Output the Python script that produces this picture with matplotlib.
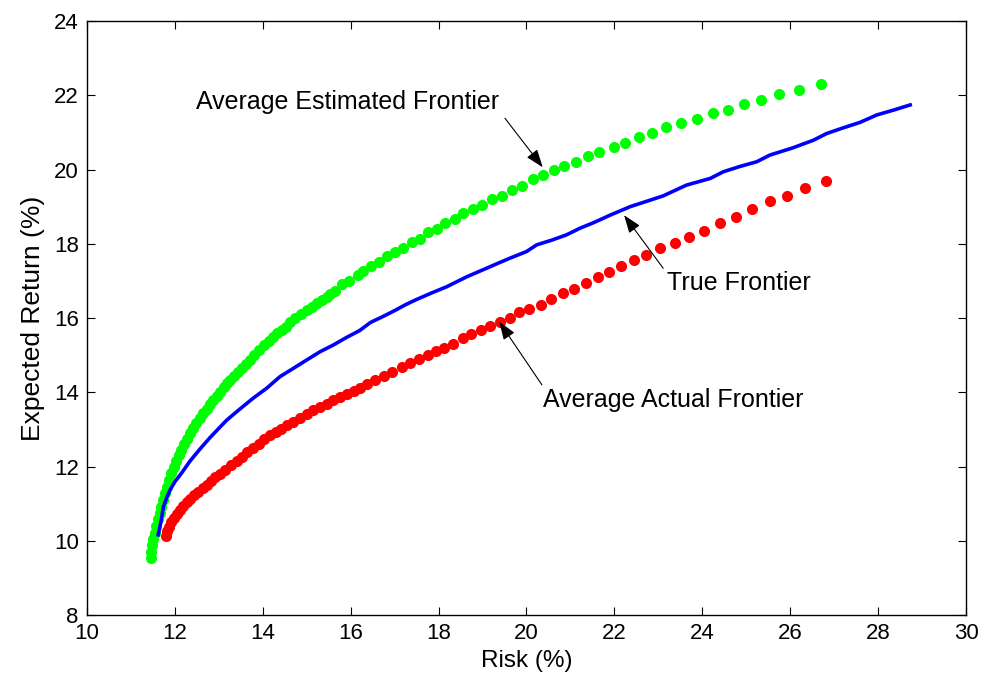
import numpy as np
import matplotlib.pyplot as plt

plt.rcParams['font.family'] = ['Liberation Sans', 'DejaVu Sans']

# Average estimated frontier (green dots): risk, return in %
est_risk = [11.45, 11.46, 11.48, 11.51, 11.54, 11.57, 11.61, 11.65, 11.69, 11.74,
            11.78, 11.82, 11.87, 11.92, 11.97, 12.03, 12.09, 12.15, 12.21, 12.27,
            12.34, 12.42, 12.49, 12.57, 12.64, 12.72, 12.80, 12.87, 12.95, 13.03,
            13.11, 13.18, 13.26, 13.34, 13.43, 13.52, 13.61, 13.71, 13.81, 13.92,
            14.02, 14.13, 14.23, 14.33, 14.43, 14.53, 14.63, 14.73, 14.86, 15.00,
            15.11, 15.23, 15.34, 15.45, 15.54, 15.64, 15.80, 15.97, 16.16, 16.29,
            16.46, 16.65, 16.83, 17.01, 17.18, 17.39, 17.58, 17.75, 17.97, 18.15,
            18.37, 18.55, 18.78, 18.99, 19.22, 19.44, 19.66, 19.89, 20.15, 20.37,
            20.63, 20.86, 21.13, 21.40, 21.66, 21.98, 22.24, 22.55, 22.86, 23.17,
            23.52, 23.88, 24.24, 24.59, 24.95, 25.34, 25.75, 26.19, 26.69]
est_ret = [9.53, 9.70, 9.88, 10.05, 10.22, 10.40, 10.58, 10.75, 10.92, 11.10,
           11.28, 11.46, 11.64, 11.82, 12.00, 12.15, 12.30, 12.45, 12.60, 12.75,
           12.90, 13.04, 13.18, 13.31, 13.43, 13.55, 13.68, 13.80, 13.91, 14.02,
           14.13, 14.24, 14.34, 14.44, 14.54, 14.65, 14.76, 14.87, 15.00, 15.13,
           15.26, 15.39, 15.49, 15.59, 15.67, 15.76, 15.88, 15.99, 16.10, 16.22,
           16.31, 16.40, 16.49, 16.57, 16.65, 16.74, 16.91, 17.00, 17.16, 17.27,
           17.40, 17.52, 17.67, 17.78, 17.88, 18.05, 18.14, 18.31, 18.41, 18.56,
           18.67, 18.83, 18.94, 19.04, 19.20, 19.30, 19.45, 19.56, 19.74, 19.84,
           19.99, 20.09, 20.20, 20.36, 20.46, 20.61, 20.72, 20.88, 20.98, 21.14,
           21.24, 21.36, 21.51, 21.61, 21.77, 21.88, 22.03, 22.15, 22.30]

# True frontier (blue line)
true_risk = [11.62, 11.68, 11.74, 11.82, 11.89, 12.00, 12.15, 12.34, 12.57, 12.80,
             13.00, 13.18, 13.45, 13.78, 14.09, 14.39, 14.69, 15.00, 15.30, 15.60,
             15.91, 16.20, 16.45, 16.75, 17.00, 17.25, 17.50, 17.85, 18.18, 18.64,
             19.09, 19.40, 19.62, 20.00, 20.23, 20.58, 20.91, 21.22, 21.55, 21.90,
             22.36, 22.75, 23.11, 23.64, 24.18, 24.48, 24.85, 25.24, 25.54, 26.05,
             26.53, 26.83, 27.20, 27.59, 27.97, 28.35, 28.73]
true_ret = [10.16, 10.50, 10.92, 11.18, 11.37, 11.59, 11.82, 12.14, 12.47, 12.78,
            13.03, 13.25, 13.52, 13.84, 14.11, 14.42, 14.64, 14.87, 15.09, 15.27,
            15.48, 15.66, 15.88, 16.05, 16.20, 16.36, 16.50, 16.68, 16.84, 17.11,
            17.34, 17.50, 17.61, 17.79, 17.97, 18.10, 18.24, 18.42, 18.58, 18.77,
            19.00, 19.15, 19.29, 19.58, 19.76, 19.94, 20.08, 20.21, 20.39, 20.58,
            20.79, 20.97, 21.12, 21.27, 21.47, 21.60, 21.74]

# Average actual frontier (red dots)
act_risk = [11.80, 11.83, 11.87, 11.92, 11.98, 12.04, 12.11, 12.19, 12.27, 12.35,
            12.44, 12.53, 12.63, 12.72, 12.82, 12.92, 13.03, 13.14, 13.27, 13.41,
            13.53, 13.65, 13.78, 13.91, 14.03, 14.16, 14.29, 14.41, 14.54, 14.69,
            14.85, 15.00, 15.15, 15.30, 15.45, 15.60, 15.75, 15.91, 16.07, 16.22,
            16.38, 16.55, 16.75, 16.95, 17.16, 17.36, 17.56, 17.75, 17.94, 18.12,
            18.33, 18.55, 18.74, 18.96, 19.18, 19.40, 19.62, 19.84, 20.06, 20.33,
            20.55, 20.82, 21.08, 21.35, 21.62, 21.88, 22.15, 22.45, 22.73, 23.04,
            23.39, 23.70, 24.05, 24.41, 24.77, 25.12, 25.53, 25.93, 26.33, 26.81]
act_ret = [10.12, 10.25, 10.38, 10.50, 10.62, 10.73, 10.84, 10.94, 11.04, 11.13,
           11.23, 11.32, 11.41, 11.50, 11.60, 11.71, 11.81, 11.91, 12.03, 12.15,
           12.26, 12.38, 12.50, 12.61, 12.73, 12.84, 12.93, 13.02, 13.11, 13.21,
           13.32, 13.42, 13.51, 13.60, 13.69, 13.78, 13.87, 13.96, 14.04, 14.12,
           14.21, 14.32, 14.43, 14.55, 14.67, 14.78, 14.89, 15.00, 15.10, 15.20,
           15.30, 15.45, 15.56, 15.67, 15.78, 15.90, 15.99, 16.16, 16.25, 16.36,
           16.50, 16.67, 16.78, 16.93, 17.10, 17.24, 17.40, 17.56, 17.71, 17.88,
           18.03, 18.19, 18.35, 18.57, 18.71, 18.93, 19.14, 19.29, 19.49, 19.68]

fig = plt.figure(figsize=(9.82, 6.87), dpi=100)
ax = fig.add_axes([0.0886, 0.1048, 0.8951, 0.8646])

ax.plot(est_risk, est_ret, 'o', color='#00ff00', markersize=8, markeredgewidth=0)
ax.plot(true_risk, true_ret, '-', color='#0000ff', linewidth=2.6)
ax.plot(act_risk, act_ret, 'o', color='#ff0000', markersize=8, markeredgewidth=0)

ax.set_xlim(10, 30)
ax.set_ylim(8, 24)
ax.set_xticks(np.arange(10, 31, 2))
ax.set_yticks(np.arange(8, 25, 2))
ax.tick_params(direction='in', top=True, right=True, length=6, width=0.8,
               labelsize=16, pad=6)
for s in ax.spines.values():
    s.set_linewidth(1.0)
ax.set_xlabel('Risk (%)', fontsize=17.5, labelpad=4)
ax.set_ylabel('Expected Return (%)', fontsize=19, labelpad=6)

# annotations: text + arrows
arrow = dict(arrowstyle='-|>,head_length=0.55,head_width=0.2', color='k',
             lw=0.8, shrinkA=0, shrinkB=0, mutation_scale=20)
ax.text(12.48, 21.82, 'Average Estimated Frontier', fontsize=18, va='center', ha='left')
ax.annotate('', xy=(20.37, 20.06), xytext=(19.51, 21.38), arrowprops=arrow)
ax.text(23.19, 16.93, 'True Frontier', fontsize=18, va='center', ha='left')
ax.annotate('', xy=(22.22, 18.77), xytext=(23.11, 17.34), arrowprops=arrow)
ax.text(20.38, 13.79, 'Average Actual Frontier', fontsize=18, va='center', ha='left')
ax.annotate('', xy=(19.38, 15.90), xytext=(20.35, 14.20), arrowprops=arrow)

plt.savefig('out.png', dpi=100)
